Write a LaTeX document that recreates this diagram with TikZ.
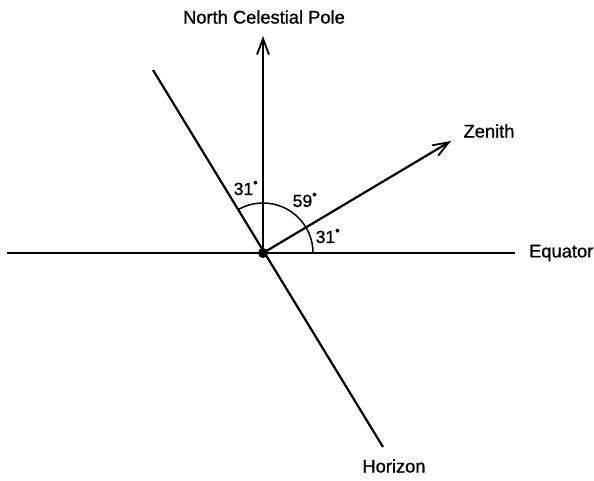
\documentclass[tikz,border=0pt]{standalone}
\usepackage{fontspec}
\setmainfont{Liberation Sans}[FakeBold=1]
\usetikzlibrary{arrows.meta}
\tikzset{
  line/.style={line width=2.2pt},
  arr/.style={line, -{Straight Barb[length=16pt,width=12pt,line width=1.8pt]}},
  lbl/.style={font=\fontsize{18.3}{21}\selectfont, inner sep=0pt},
  deg/.style={font=\fontsize{17.5}{20}\selectfont, inner sep=0pt},
}
\newcommand{\dg}{\textsuperscript{\fontsize{13}{13}\selectfont\raisebox{0.25ex}{•}}}
\begin{document}
\begin{tikzpicture}[x=1pt,y=-1pt]
\useasboundingbox (0,0) rectangle (594,480);
\coordinate (O) at (263,253);
\coordinate (eqL) at (7,253);
\coordinate (eqR) at (515,253);
\coordinate (pole) at (263,36);
\coordinate (zen) at (451,141);
\coordinate (hU) at (153,70);
\coordinate (hD) at (383,447);
% lines
\draw[line] (eqL) -- (eqR);
\draw[line] (hU) -- (hD);
\draw[arr] (O) -- (pole);
\draw[arr] (O) -- (zen);
% angle arc from equator (0 deg) to horizon (121 deg)
\draw[line width=1.5pt] (O) ++(50,0) arc[start angle=0, end angle=-121, radius=50];
\fill (O) circle[radius=5];
% labels
\node[lbl] (tPole) at (264,17) {North Celestial Pole};
\node[lbl] (tZen) at (489,131) {Zenith};
\node[lbl, anchor=west] (tEq) at (529,253) {Equator};
\node[lbl] (tHor) at (394,466) {Horizon};
\node[deg] (a1) at (246,188) {31\dg};
\node[deg] (a2) at (305,200) {59\dg};
\node[deg] (a3) at (328,236) {31\dg};
\end{tikzpicture}
\end{document}
